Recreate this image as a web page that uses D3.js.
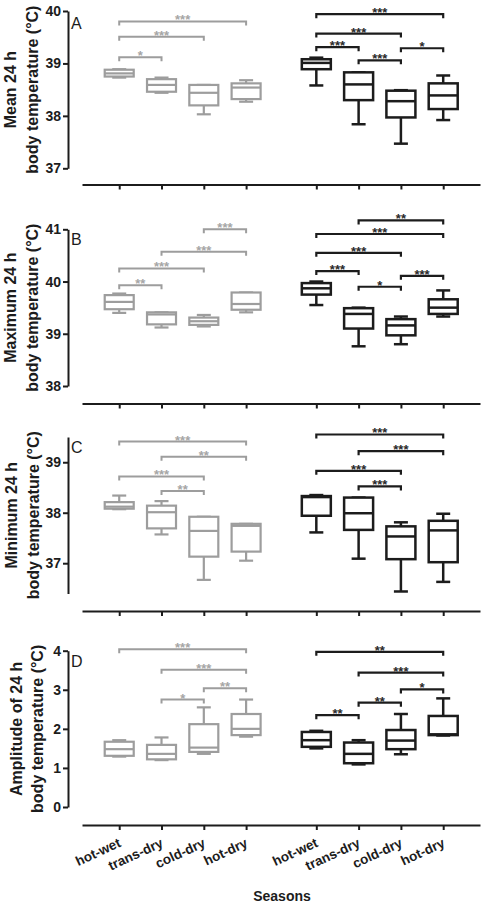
<!DOCTYPE html>
<html>
<head>
<meta charset="utf-8">
<script src="https://cdn.jsdelivr.net/npm/d3@7"></script>
<style>
  html, body { margin: 0; padding: 0; background: #fff; }
  svg { display: block; font-family: Arial, "Liberation Sans", Helvetica, sans-serif; }
</style>
</head>
<body>
<svg id="chart" width="481" height="903"></svg>
<script>
// ---------- DATA ----------
const seasons = ["hot-wet", "trans-dry", "cold-dry", "hot-dry"];
const groups = ["gray", "black"];

// box stats: [min, q1, median, q3, max]
const meanGray = [[38.73, 38.75, 38.81, 38.88, 38.89], [38.44, 38.46, 38.59, 38.70, 38.73], [38.03, 38.20, 38.44, 38.59, 38.59], [38.27, 38.32, 38.54, 38.62, 38.68]];
const meanBlack = [[38.58, 38.89, 39.01, 39.08, 39.11], [37.84, 38.30, 38.60, 38.83, 38.83], [37.47, 37.97, 38.28, 38.48, 38.49], [37.92, 38.13, 38.39, 38.62, 38.77]];
const maxGray = [[39.40, 39.47, 39.61, 39.74, 39.77], [39.12, 39.18, 39.37, 39.41, 39.41], [39.14, 39.17, 39.24, 39.31, 39.36], [39.41, 39.46, 39.57, 39.79, 39.79]];
const maxBlack = [[39.55, 39.75, 39.87, 39.97, 40.00], [38.76, 39.10, 39.38, 39.49, 39.50], [38.80, 38.97, 39.16, 39.28, 39.33], [39.33, 39.38, 39.50, 39.66, 39.83]];
const minGray = [[38.07, 38.08, 38.12, 38.21, 38.34], [37.57, 37.69, 38.01, 38.14, 38.23], [36.67, 37.13, 37.64, 37.92, 37.92], [37.05, 37.23, 37.74, 37.78, 37.78]];
const minBlack = [[37.61, 37.94, 38.31, 38.33, 38.35], [37.09, 37.66, 37.99, 38.30, 38.30], [36.44, 37.08, 37.53, 37.73, 37.81], [36.63, 37.02, 37.65, 37.84, 37.98]];
const ampGray = [[1.29, 1.31, 1.48, 1.67, 1.71], [1.20, 1.22, 1.36, 1.59, 1.78], [1.36, 1.41, 1.52, 2.12, 2.55], [1.80, 1.84, 2.00, 2.38, 2.75]];
const ampBlack = [[1.50, 1.54, 1.71, 1.92, 1.95], [1.09, 1.12, 1.36, 1.65, 1.71], [1.35, 1.48, 1.70, 1.97, 2.38], [1.83, 1.84, 1.86, 2.33, 2.78]];

// significance brackets: [group, fromSeason, toSeason, value level, label]
const meanSig = [[0, 0, 1, 39.12, "*"], [0, 0, 2, 39.51, "***"], [0, 0, 3, 39.80, "***"],
  [1, 0, 3, 39.94, "***"], [1, 0, 2, 39.57, "***"], [1, 0, 1, 39.31, "***"], [1, 1, 2, 39.06, "***"], [1, 2, 3, 39.29, "*"]];
const maxSig = [[0, 0, 1, 39.93, "**"], [0, 0, 2, 40.25, "***"], [0, 1, 3, 40.57, "***"], [0, 2, 3, 41.00, "***"],
  [1, 1, 3, 41.17, "**"], [1, 0, 3, 40.91, "***"], [1, 0, 2, 40.55, "***"], [1, 0, 1, 40.20, "***"], [1, 1, 2, 39.90, "*"], [1, 2, 3, 40.11, "***"]];
const minSig = [[0, 0, 3, 39.41, "***"], [0, 1, 3, 39.11, "**"], [0, 0, 2, 38.72, "***"], [0, 1, 2, 38.43, "**"],
  [1, 0, 3, 39.55, "***"], [1, 1, 3, 39.22, "***"], [1, 0, 2, 38.83, "***"], [1, 1, 2, 38.52, "***"]];
const ampSig = [[0, 0, 3, 4.04, "***"], [0, 1, 3, 3.51, "***"], [0, 2, 3, 3.04, "**"], [0, 1, 2, 2.75, "*"],
  [1, 0, 3, 3.97, "**"], [1, 1, 3, 3.44, "***"], [1, 2, 3, 3.01, "*"], [1, 1, 2, 2.67, "**"], [1, 0, 1, 2.35, "**"]];

const meanTicks = [37, 38, 39, 40];
const maxTicks = [38, 39, 40, 41];
const minTicks = [37, 38, 39];
const ampTicks = [0, 1, 2, 3, 4];

const xTitle = "Seasons";

// ---------- LAYOUT ----------
const colors = { gray: "#9d9d9d", black: "#1c1c1c" };
const starColors = { gray: "#a6a6a6", black: "#2a2a2a" };
const groupOffset = 4.66;   // slot spacing between the two groups
const axisX = 68;
const FONT = "Arial, 'Liberation Sans', sans-serif";

const panels = [
  { letter: "A", title: ["Mean 24 h", "body temperature (°C)"], domain: [37, 40], range: [168.3, 11], ticks: meanTicks,
    data: [meanGray, meanBlack], sig: meanSig, xAxisY: 184.5, titleX: [16, 38], letterY: 29 },
  { letter: "B", title: ["Maximum 24 h", "body temperature (°C)"], domain: [38, 41], range: [386, 229.3], ticks: maxTicks,
    data: [maxGray, maxBlack], sig: maxSig, xAxisY: 403.5, titleX: [16, 38], letterY: 245 },
  { letter: "C", title: ["Minimum 24 h", "body temperature (°C)"], domain: [36.4, 39.5], range: [593.5, 437], ticks: minTicks,
    data: [minGray, minBlack], sig: minSig, xAxisY: 611, titleX: [17, 39], letterY: 453 },
  { letter: "D", title: ["Amplitude of 24 h", "body temperature (°C)"], domain: [0, 4], range: [807, 650.7], ticks: ampTicks,
    data: [ampGray, ampBlack], sig: ampSig, xAxisY: 825, titleX: [22, 43], letterY: 667, labels: true }
];

const svg = d3.select("#chart");

const x = d3.scaleLinear().domain([-0.88, groupOffset + 3 + 0.87]).range([82, 480]);
const slot = (g, i) => g * groupOffset + i;
const tickSlots = [];
groups.forEach((g, gi) => seasons.forEach((s, si) => tickSlots.push(slot(gi, si))));

const boxW = 29, capW = 14;

panels.forEach(p => {
  const y = d3.scaleLinear().domain(p.domain).range(p.range);
  const gp = svg.append("g");

  // y axis
  const ya = gp.append("g").attr("transform", `translate(${axisX},0)`)
    .call(d3.axisLeft(y).tickValues(p.ticks).tickFormat(d3.format("d")).tickSize(5).tickSizeOuter(0).tickPadding(2));
  ya.select(".domain").attr("stroke", "#1c1c1c").attr("stroke-width", 2);
  ya.selectAll(".tick line").attr("stroke", "#1c1c1c").attr("stroke-width", 2);
  ya.selectAll(".tick text").attr("font-size", 14).attr("font-weight", "bold").attr("fill", "#1c1c1c")
    .attr("font-family", FONT);

  // x axis
  const xa = gp.append("g").attr("transform", `translate(0,${p.xAxisY})`)
    .call(d3.axisBottom(x).tickValues(tickSlots).tickSize(5).tickSizeOuter(0)
      .tickFormat(p.labels ? ((d, i) => seasons[i % 4]) : () => ""));
  xa.select(".domain").attr("stroke", "#1c1c1c").attr("stroke-width", 2);
  xa.selectAll(".tick line").attr("stroke", "#1c1c1c").attr("stroke-width", 2);
  if (p.labels) {
    xa.selectAll(".tick text")
      .attr("font-size", 13.5).attr("font-weight", "bold").attr("fill", "#1c1c1c")
      .attr("font-family", FONT)
      .attr("text-anchor", "end").attr("dy", null).attr("y", null)
      .attr("transform", "translate(2,21) rotate(-25)");
  } else {
    xa.selectAll(".tick text").remove();
  }

  // y title
  p.title.forEach((t, li) => {
    gp.append("text")
      .attr("transform", `translate(${p.titleX[li]},${(p.range[0] + p.range[1]) / 2}) rotate(-90)`)
      .attr("text-anchor", "middle").attr("font-size", 16).attr("font-weight", "bold").attr("fill", "#1c1c1c")
      .text(t);
  });

  // panel letter
  gp.append("text").attr("x", 71).attr("y", p.letterY).attr("font-size", 16).attr("fill", "#1c1c1c").text(p.letter);

  // boxes
  groups.forEach((g, gi) => {
    const col = colors[g];
    const sw = gi === 0 ? 2.2 : 2.5;
    const bg = gp.append("g").attr("stroke", col).attr("stroke-width", sw).attr("fill", "none");
    const boxes = bg.selectAll("g.box").data(p.data[gi]).join("g").attr("class", "box");
    boxes.each(function (d, si) {
      const cx = x(slot(gi, si));
      const sel = d3.select(this);
      // whiskers
      sel.append("line").attr("x1", cx).attr("x2", cx).attr("y1", y(d[0])).attr("y2", y(d[1]));
      sel.append("line").attr("x1", cx).attr("x2", cx).attr("y1", y(d[3])).attr("y2", y(d[4]));
      sel.append("line").attr("x1", cx - capW / 2).attr("x2", cx + capW / 2).attr("y1", y(d[0])).attr("y2", y(d[0]));
      sel.append("line").attr("x1", cx - capW / 2).attr("x2", cx + capW / 2).attr("y1", y(d[4])).attr("y2", y(d[4]));
      // box
      sel.append("rect").attr("x", cx - boxW / 2).attr("width", boxW)
        .attr("y", y(d[3])).attr("height", Math.max(0.5, y(d[1]) - y(d[3]))).attr("fill", "#fff");
      // median
      sel.append("line").attr("x1", cx - boxW / 2).attr("x2", cx + boxW / 2).attr("y1", y(d[2])).attr("y2", y(d[2]));
    });
  });

  // significance brackets
  const sg = gp.append("g");
  p.sig.forEach(s => {
    const [gi, a, b, v, lab] = s;
    const g = groups[gi];
    const x1 = x(slot(gi, a)), x2 = x(slot(gi, b)), yy = y(v);
    sg.append("path")
      .attr("d", `M${x1},${yy + 4}V${yy}H${x2}V${yy + 4}`)
      .attr("fill", "none").attr("stroke", colors[g]).attr("stroke-width", gi === 0 ? 2 : 2.2);
    sg.append("text").attr("x", (x1 + x2) / 2).attr("y", yy + 3)
      .attr("text-anchor", "middle").attr("font-size", 13).attr("font-weight", "bold")
      .attr("fill", starColors[g]).text(lab);
  });
});

// x title
svg.append("text").attr("x", 282).attr("y", 901).attr("text-anchor", "middle")
  .attr("font-size", 14).attr("font-weight", "bold").attr("fill", "#1c1c1c").text(xTitle);
</script>
</body>
</html>
